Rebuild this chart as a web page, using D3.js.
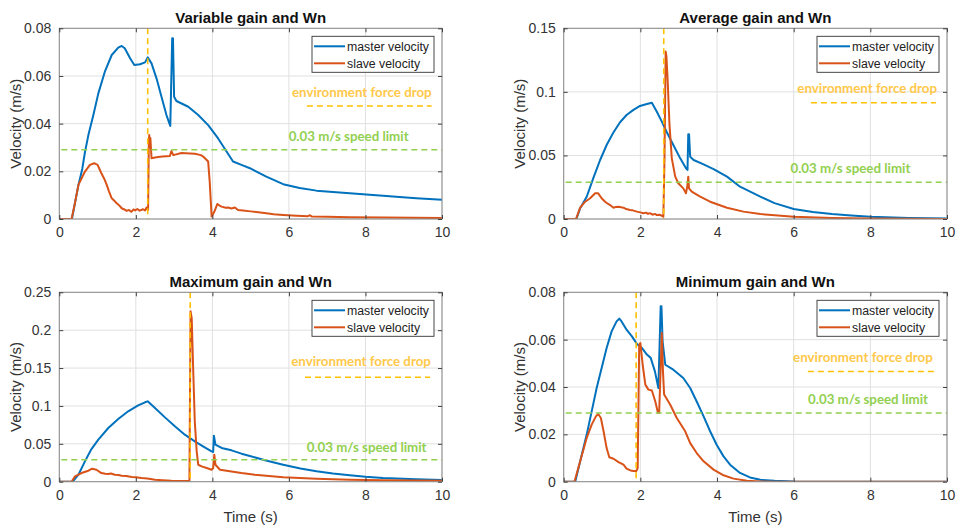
<!DOCTYPE html>
<html>
<head>
<meta charset="utf-8">
<script src="https://cdn.jsdelivr.net/npm/d3@7"></script>
<style>
  html, body { margin: 0; padding: 0; background: #fff; }
  svg { display: block; }
</style>
</head>
<body>
<svg id="chart" width="956" height="526"></svg>
<script>
// ---------------- DATA ----------------
const titles = ["Variable gain and Wn", "Average gain and Wn", "Maximum gain and Wn", "Minimum gain and Wn"];
const xTicks = [0, 2, 4, 6, 8, 10];
const xTickLabels = ["0", "2", "4", "6", "8", "10"];
const yTicksVariable = [0, 0.02, 0.04, 0.06, 0.08];
const yTickLabelsVariable = ["0", "0.02", "0.04", "0.06", "0.08"];
const yTicksAverage = [0, 0.05, 0.1, 0.15];
const yTickLabelsAverage = ["0", "0.05", "0.1", "0.15"];
const yTicksMaximum = [0, 0.05, 0.1, 0.15, 0.2, 0.25];
const yTickLabelsMaximum = ["0", "0.05", "0.1", "0.15", "0.2", "0.25"];
const yTicksMinimum = [0, 0.02, 0.04, 0.06, 0.08];
const yTickLabelsMinimum = ["0", "0.02", "0.04", "0.06", "0.08"];
const seriesNames = ["master velocity", "slave velocity"];
const speedLimit = 0.029;            // green dashed "0.03 m/s speed limit"
const forceDropTimes = [2.31, 2.61, 3.42, 1.89];  // orange vertical dashed lines

// [time (s), velocity (m/s)]
const variableMaster = [[0,0],[0.33,0],[0.5,0.0143],[0.6,0.021],[0.67,0.028],[0.76,0.0352],[0.89,0.0436],[1.02,0.0527],[1.19,0.0618],[1.37,0.0688],[1.54,0.0719],[1.63,0.0726],[1.71,0.0716],[1.85,0.0674],[1.96,0.0646],[2.11,0.0649],[2.24,0.0657],[2.31,0.0678],[2.41,0.0653],[2.54,0.059],[2.67,0.0513],[2.8,0.0436],[2.9,0.039],[2.95,0.0758],[2.97,0.0758],[3.0,0.0513],[3.06,0.0495],[3.37,0.0471],[3.63,0.0436],[3.89,0.0394],[4.15,0.0338],[4.37,0.0283],[4.54,0.0241],[4.76,0.0227],[4.98,0.0213],[5.41,0.0178],[5.85,0.0146],[6.28,0.013],[6.72,0.0119],[7.15,0.0113],[7.59,0.0108],[8.02,0.0103],[8.46,0.0098],[8.89,0.0092],[9.33,0.0087],[10,0.0081]];
const variableSlave = [[0,0],[0.32,0],[0.4,0.006],[0.5,0.0143],[0.67,0.0199],[0.8,0.0227],[0.91,0.0234],[1.0,0.0227],[1.1,0.0192],[1.17,0.017],[1.24,0.0143],[1.3,0.0115],[1.37,0.0087],[1.43,0.0078],[1.5,0.0066],[1.56,0.0058],[1.63,0.0045],[1.7,0.004],[1.76,0.0034],[1.82,0.0038],[1.88,0.003],[1.94,0.004],[1.98,0.0036],[2.04,0.0042],[2.1,0.0035],[2.19,0.0041],[2.24,0.0036],[2.28,0.0048],[2.32,0.0038],[2.34,0.033],[2.35,0.0352],[2.37,0.03],[2.38,0.034],[2.41,0.0255],[2.5,0.0258],[2.58,0.026],[2.7,0.0262],[2.89,0.0264],[2.93,0.0285],[2.98,0.0268],[3.19,0.0277],[3.54,0.0274],[3.7,0.0268],[3.76,0.0262],[3.89,0.0241],[3.93,0.0157],[3.98,0.001],[4.05,0.003],[4.13,0.0063],[4.2,0.0055],[4.24,0.0052],[4.35,0.0047],[4.41,0.0048],[4.5,0.0044],[4.59,0.0048],[4.67,0.0038],[4.8,0.0036],[5.0,0.0032],[5.2,0.0028],[5.41,0.0024],[5.6,0.002],[5.85,0.0017],[6.2,0.0014],[6.5,0.0012],[6.55,0.0016],[6.6,0.001],[7,0.0009],[7.59,0.0007],[8.5,0.0006],[10,0.0004]];

const averageMaster = [[0,0],[0.33,0],[0.43,0.0085],[0.6,0.0175],[0.77,0.032],[0.95,0.0464],[1.12,0.0582],[1.3,0.0682],[1.47,0.0761],[1.64,0.0818],[1.82,0.0858],[1.99,0.0889],[2.17,0.0905],[2.3,0.0915],[2.43,0.0844],[2.56,0.0766],[2.69,0.0682],[2.86,0.0582],[3.04,0.0477],[3.19,0.0399],[3.23,0.0386],[3.25,0.0666],[3.27,0.0666],[3.3,0.049],[3.39,0.0464],[3.65,0.043],[3.91,0.0393],[4.26,0.0333],[4.6,0.0254],[5.13,0.0176],[5.5,0.0125],[6,0.0079],[6.5,0.0055],[7,0.0039],[7.5,0.0027],[8,0.0018],[9,0.0008],[10,0.0003]];
const averageSlave = [[0,0],[0.32,0],[0.43,0.0089],[0.56,0.0136],[0.69,0.0163],[0.82,0.0202],[0.9,0.0202],[0.99,0.0163],[1.08,0.0136],[1.15,0.012],[1.21,0.011],[1.3,0.0089],[1.36,0.0095],[1.43,0.0097],[1.5,0.0092],[1.56,0.0089],[1.63,0.0078],[1.73,0.0071],[1.8,0.0068],[1.91,0.0058],[2.0,0.0052],[2.08,0.0045],[2.15,0.005],[2.2,0.004],[2.25,0.0046],[2.32,0.0034],[2.38,0.004],[2.43,0.0031],[2.5,0.0033],[2.56,0.0026],[2.6,0.0018],[2.63,0.0477],[2.66,0.1317],[2.68,0.128],[2.71,0.1107],[2.76,0.074],[2.82,0.0477],[2.91,0.0333],[2.99,0.0281],[3.12,0.0241],[3.19,0.0202],[3.23,0.0267],[3.25,0.0333],[3.27,0.0241],[3.34,0.0215],[3.56,0.0176],[3.82,0.0136],[4.26,0.0089],[4.69,0.0058],[5.13,0.0039],[6,0.0018],[7,0.0008],[8,0.0003],[9,0.0001],[10,0]];

const maximumMaster = [[0,0],[0.35,0],[0.5,0.0092],[0.67,0.0268],[0.84,0.0431],[1.02,0.0555],[1.28,0.0709],[1.54,0.0827],[1.8,0.0929],[2.06,0.1008],[2.24,0.1048],[2.31,0.1061],[2.5,0.0973],[2.76,0.0849],[3.02,0.0731],[3.28,0.0621],[3.54,0.0533],[3.8,0.0453],[3.98,0.04],[4.02,0.0392],[4.04,0.0607],[4.08,0.0489],[4.24,0.0445],[4.5,0.0414],[4.76,0.037],[4.98,0.034],[5.4,0.028],[5.85,0.0225],[6.3,0.0175],[6.72,0.0137],[7.15,0.0108],[7.59,0.0084],[8.0,0.0065],[8.46,0.0049],[9.33,0.0031],[10,0.0022]];
const maximumSlave = [[0,0],[0.32,0],[0.41,0.007],[0.58,0.0114],[0.76,0.0145],[0.86,0.0172],[0.97,0.0158],[1.1,0.0114],[1.2,0.0105],[1.28,0.0101],[1.35,0.0108],[1.45,0.0092],[1.55,0.0088],[1.63,0.0079],[1.75,0.0075],[1.89,0.0062],[2.0,0.0058],[2.15,0.0048],[2.3,0.0042],[2.5,0.0026],[2.7,0.002],[2.93,0.0013],[3.37,0.0009],[3.4,0.001],[3.43,0.2249],[3.46,0.216],[3.5,0.1457],[3.54,0.0797],[3.59,0.04],[3.63,0.0224],[3.72,0.0202],[3.85,0.018],[3.98,0.0158],[4.02,0.018],[4.05,0.0357],[4.08,0.0224],[4.2,0.0158],[4.5,0.0136],[4.76,0.0114],[5.11,0.0092],[5.85,0.0058],[6.72,0.004],[7.59,0.0026],[8.46,0.0018],[10,0.0013]];

const minimumMaster = [[0,0],[0.3,0],[0.43,0.0086],[0.6,0.0199],[0.73,0.0297],[0.86,0.0396],[0.99,0.048],[1.12,0.0565],[1.25,0.0635],[1.38,0.0677],[1.45,0.0689],[1.51,0.0677],[1.64,0.0642],[1.78,0.0614],[1.91,0.0582],[2.04,0.0565],[2.17,0.0537],[2.27,0.0523],[2.38,0.0466],[2.47,0.0396],[2.53,0.0741],[2.55,0.0741],[2.58,0.0593],[2.65,0.0494],[2.86,0.0473],[3.12,0.0438],[3.3,0.0396],[3.47,0.0339],[3.65,0.0276],[3.82,0.0213],[3.99,0.0156],[4.17,0.0107],[4.34,0.0072],[4.6,0.0037],[4.86,0.0018],[5.13,0.0008],[5.5,0.0004],[6,0.0001],[7,0],[10,0]];
const minimumSlave = [[0,0],[0.28,0],[0.43,0.0086],[0.6,0.0185],[0.73,0.0241],[0.84,0.0276],[0.9,0.0286],[0.97,0.0269],[1.04,0.0213],[1.12,0.0142],[1.19,0.0103],[1.3,0.0097],[1.43,0.0083],[1.56,0.0072],[1.64,0.0055],[1.77,0.0046],[1.89,0.0044],[1.93,0.0058],[1.97,0.0579],[2.0,0.0586],[2.06,0.0494],[2.13,0.041],[2.21,0.0389],[2.3,0.0385],[2.39,0.0339],[2.46,0.029],[2.49,0.029],[2.53,0.048],[2.56,0.0628],[2.59,0.0466],[2.62,0.0368],[2.78,0.0325],[2.95,0.0269],[3.17,0.0213],[3.3,0.0163],[3.47,0.0121],[3.65,0.0086],[3.91,0.0051],[4.17,0.0027],[4.43,0.0013],[4.78,0.0004],[5.13,0.0001],[5.5,0],[10,0]];

const annotationTexts = ["environment force drop", "0.03 m/s speed limit"];

// ---------------- LAYOUT / STYLE ----------------
const COLORS = { master: "#0072BD", slave: "#D95319", drop: "#FFC000", dropText: "#FFC84A", limit: "#92D050" };
const panels = [
  { title: titles[0], box: [59.3, 28.3, 442, 219],   yMax: 0.08, yTicks: yTicksVariable, yLabels: yTickLabelsVariable, master: variableMaster, slave: variableSlave, drop: forceDropTimes[0], xLabel: false,
    envText: [9.73, 0.0533], envLine: [6.47, 9.73, 0.0474], limText: [7.56, 0.0348] },
  { title: titles[1], box: [563.7, 28.3, 947, 219],  yMax: 0.15, yTicks: yTicksAverage, yLabels: yTickLabelsAverage, master: averageMaster, slave: averageSlave, drop: forceDropTimes[1], xLabel: false,
    envText: [9.74, 0.103], envLine: [6.45, 9.71, 0.0914], limText: [7.48, 0.0401] },
  { title: titles[2], box: [59.3, 292.3, 442, 481.7], yMax: 0.25, yTicks: yTicksMaximum, yLabels: yTickLabelsMaximum, master: maximumMaster, slave: maximumSlave, drop: forceDropTimes[2], xLabel: true,
    envText: [9.71, 0.1584], envLine: [6.42, 9.69, 0.1378], limText: [8.03, 0.0454] },
  { title: titles[3], box: [563.7, 292.3, 947, 481.7], yMax: 0.08, yTicks: yTicksMinimum, yLabels: yTickLabelsMinimum, master: minimumMaster, slave: minimumSlave, drop: forceDropTimes[3], xLabel: true,
    envText: [9.63, 0.0524], envLine: [6.37, 9.66, 0.0465], limText: [7.94, 0.0348] }
];

const svg = d3.select("#chart");
svg.append("rect").attr("width", 956).attr("height", 526).attr("fill", "#fff");
const FONT = "'Liberation Sans', Arial, Helvetica, sans-serif";
const ANNOT_FONT = "Lato, 'Open Sans', sans-serif";

panels.forEach((p, i) => {
  const [x0, y0, x1, y1] = p.box;
  const x = d3.scaleLinear().domain([0, 10]).range([x0, x1]);
  const y = d3.scaleLinear().domain([0, p.yMax]).range([y1, y0]);
  const g = svg.append("g");

  // grid
  g.append("g").selectAll("line").data(xTicks).join("line")
    .attr("x1", d => x(d)).attr("x2", d => x(d)).attr("y1", y0).attr("y2", y1)
    .attr("stroke", "#e0e0e0").attr("stroke-width", 1);
  g.append("g").selectAll("line").data(p.yTicks).join("line")
    .attr("x1", x0).attr("x2", x1).attr("y1", d => y(d)).attr("y2", d => y(d))
    .attr("stroke", "#e0e0e0").attr("stroke-width", 1);

  // clip
  const clipId = "clip" + i;
  svg.append("clipPath").attr("id", clipId).append("rect")
    .attr("x", x0).attr("y", y0 - 1).attr("width", x1 - x0).attr("height", y1 - y0 + 1);
  const plot = g.append("g").attr("clip-path", `url(#${clipId})`);

  const line = d3.line().x(d => x(d[0])).y(d => y(d[1]));
  plot.append("path").datum(p.master).attr("d", line)
    .attr("fill", "none").attr("stroke", COLORS.master).attr("stroke-width", 2).attr("stroke-linejoin", "round");
  plot.append("path").datum(p.slave).attr("d", line)
    .attr("fill", "none").attr("stroke", COLORS.slave).attr("stroke-width", 2).attr("stroke-linejoin", "round");

  // speed limit line
  plot.append("line").attr("x1", x(0)).attr("x2", x(10)).attr("y1", y(speedLimit)).attr("y2", y(speedLimit))
    .attr("stroke", COLORS.limit).attr("stroke-width", 1.5).attr("stroke-dasharray", "6,4").attr("stroke-dashoffset", -2);
  // force drop vertical
  plot.append("line").attr("x1", x(p.drop)).attr("x2", x(p.drop)).attr("y1", y0).attr("y2", y1)
    .attr("stroke", COLORS.drop).attr("stroke-width", 1.6).attr("stroke-dasharray", "6,4");

  // axes box
  g.append("rect").attr("x", x0).attr("y", y0).attr("width", x1 - x0).attr("height", y1 - y0)
    .attr("fill", "none").attr("stroke", "#8a8a8a").attr("stroke-width", 1);

  // axes (ticks inward) with d3 axes
  const axB = d3.axisBottom(x).tickValues(xTicks).tickFormat((d, k) => xTickLabels[k]).tickSizeInner(-4).tickSizeOuter(0).tickPadding(8);
  const axT = d3.axisTop(x).tickValues(xTicks).tickFormat("").tickSizeInner(-4).tickSizeOuter(0);
  const axL = d3.axisLeft(y).tickValues(p.yTicks).tickFormat((d, k) => p.yLabels[k]).tickSizeInner(-4).tickSizeOuter(0).tickPadding(8);
  const axR = d3.axisRight(y).tickValues(p.yTicks).tickFormat("").tickSizeInner(-4).tickSizeOuter(0);
  const styleAxis = sel => {
    sel.select(".domain").remove();
    sel.selectAll(".tick line").attr("stroke", "#404040");
    sel.selectAll(".tick text").attr("fill", "#333").style("font-family", FONT).style("font-size", "14px");
  };
  g.append("g").attr("transform", `translate(0,${y1})`).call(axB).call(styleAxis);
  g.append("g").attr("transform", `translate(0,${y0})`).call(axT).call(styleAxis);
  g.append("g").attr("transform", `translate(${x0},0)`).call(axL).call(styleAxis);
  g.append("g").attr("transform", `translate(${x1},0)`).call(axR).call(styleAxis);

  // title
  g.append("text").attr("x", (x0 + x1) / 2).attr("y", y0 - 5.5).attr("text-anchor", "middle")
    .style("font-family", FONT).style("font-size", "15px").style("font-weight", "bold").attr("fill", "#111")
    .text(p.title);
  // y label
  g.append("text").attr("transform", `translate(${x0 - 44},${(y0 + y1) / 2}) rotate(-90)`)
    .attr("text-anchor", "middle").attr("dy", "0.35em")
    .style("font-family", FONT).style("font-size", "15px").attr("fill", "#333").text("Velocity (m/s)");
  if (p.xLabel) {
    g.append("text").attr("x", (x0 + x1) / 2).attr("y", y1 + 40).attr("text-anchor", "middle")
      .style("font-family", FONT).style("font-size", "15px").attr("fill", "#333").text("Time (s)");
  }

  // annotations
  g.append("text").attr("x", x(p.envText[0])).attr("y", y(p.envText[1])).attr("dy", "0.35em").attr("text-anchor", "end")
    .style("font-family", ANNOT_FONT).style("font-size", "13.3px").style("font-weight", "bold").attr("fill", COLORS.dropText)
    .text(annotationTexts[0]);
  g.append("line").attr("x1", x(p.envLine[0])).attr("x2", x(p.envLine[1])).attr("y1", y(p.envLine[2])).attr("y2", y(p.envLine[2]))
    .attr("stroke", COLORS.drop).attr("stroke-width", 1.5).attr("stroke-dasharray", "6,4");
  g.append("text").attr("x", x(p.limText[0])).attr("y", y(p.limText[1])).attr("dy", "0.35em").attr("text-anchor", "middle")
    .style("font-family", ANNOT_FONT).style("font-size", "13.3px").style("font-weight", "bold").attr("fill", COLORS.limit)
    .text(annotationTexts[1]);

  // legend
  const lw = 122, lh = 36;
  const lx = x1 - 8 - lw, ly = y0 + 8;
  const lg = g.append("g");
  lg.append("rect").attr("x", lx).attr("y", ly).attr("width", lw).attr("height", lh)
    .attr("fill", "#fff").attr("stroke", "#333").attr("stroke-width", 0.9);
  [COLORS.master, COLORS.slave].forEach((c, k) => {
    const yy = ly + 10 + k * 17;
    lg.append("line").attr("x1", lx + 2).attr("x2", lx + 33).attr("y1", yy).attr("y2", yy)
      .attr("stroke", c).attr("stroke-width", 2);
    lg.append("text").attr("x", lx + 35).attr("y", yy).attr("dy", "0.35em")
      .style("font-family", FONT).style("font-size", "12.3px").attr("fill", "#222").text(seriesNames[k]);
  });
});
</script>
</body>
</html>
